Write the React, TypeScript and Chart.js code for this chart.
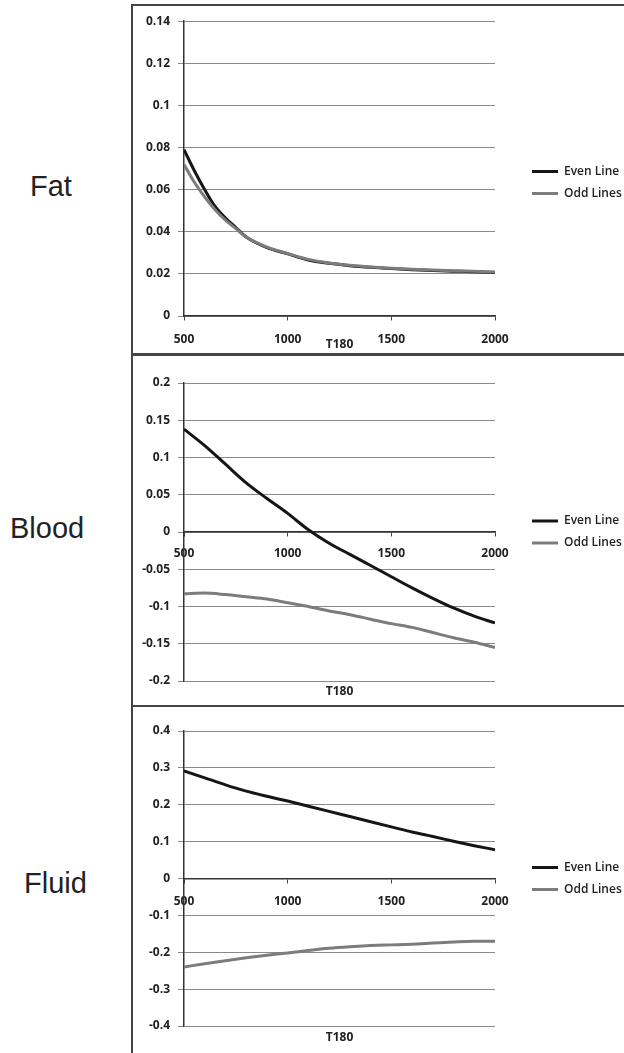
import React, { useEffect, useRef } from 'react';
import { Chart, registerables } from 'chart.js';

Chart.register(...registerables);

// ---------- data ----------
const seriesNames = ['Even Line', 'Odd Lines'];
const panelNames = ['Fat', 'Blood', 'Fluid'];
const xTitle = 'T180';
const xTicks = [500, 1000, 1500, 2000];

const fatT180 = [500, 550, 600, 650, 700, 750, 800, 900, 1000, 1100, 1200, 1300, 1400, 1500, 1600, 1700, 1800, 1900, 2000];
const fatEven = [0.079, 0.069, 0.060, 0.052, 0.0465, 0.042, 0.0375, 0.0325, 0.0295, 0.0266, 0.0250, 0.0239, 0.0231, 0.0225, 0.0220, 0.0216, 0.0213, 0.0210, 0.0206];
const fatOdd = [0.072, 0.0635, 0.0565, 0.0505, 0.0455, 0.0415, 0.0375, 0.0327, 0.0297, 0.0269, 0.0252, 0.0241, 0.0233, 0.0227, 0.0222, 0.0218, 0.0215, 0.0212, 0.0209];
const fatYTicks = [0, 0.02, 0.04, 0.06, 0.08, 0.1, 0.12, 0.14];

const bloodT180 = [500, 600, 700, 800, 900, 1000, 1100, 1200, 1300, 1400, 1500, 1600, 1700, 1800, 1900, 2000];
const bloodEven = [0.138, 0.116, 0.091, 0.066, 0.045, 0.025, 0.003, -0.015, -0.030, -0.045, -0.060, -0.075, -0.089, -0.102, -0.113, -0.122];
const bloodOdd = [-0.083, -0.082, -0.084, -0.087, -0.090, -0.095, -0.100, -0.106, -0.111, -0.117, -0.123, -0.128, -0.135, -0.142, -0.148, -0.155];
const bloodYTicks = [-0.2, -0.15, -0.1, -0.05, 0, 0.05, 0.1, 0.15, 0.2];

const fluidT180 = [500, 600, 700, 800, 900, 1000, 1100, 1200, 1300, 1400, 1500, 1600, 1700, 1800, 1900, 2000];
const fluidEven = [0.292, 0.273, 0.254, 0.237, 0.223, 0.210, 0.196, 0.182, 0.168, 0.154, 0.140, 0.126, 0.114, 0.101, 0.089, 0.078];
const fluidOdd = [-0.240, -0.231, -0.223, -0.215, -0.208, -0.202, -0.195, -0.189, -0.185, -0.182, -0.180, -0.178, -0.175, -0.172, -0.170, -0.170];
const fluidYTicks = [-0.4, -0.3, -0.2, -0.1, 0, 0.1, 0.2, 0.3, 0.4];

// ---------- styling ----------
const FONT = "'Open Sans', 'Liberation Sans', sans-serif";
const EVEN_COLOR = '#151515';
const ODD_COLOR = '#7c7c7c';
const CANVAS_W = 491;
const PLOT_RIGHT = 362; // canvas-local right edge of the plot area
const LEGEND_W = 102;

type PanelProps = {
  top: number;
  height: number;
  padTop: number;
  bottomH: number;
  titlePad: number;
  labelPad: number;
  legendShift: number;
  xs: number[];
  even: number[];
  odd: number[];
  yTicks: number[];
};

function Panel(p: PanelProps) {
  const ref = useRef<HTMLCanvasElement | null>(null);
  useEffect(() => {
    if (!ref.current) return;
    const tickFont = { family: FONT, size: 12, weight: 'bold' as const };
    const legendFont = { family: FONT, size: 12, weight: '600' as any };
    const chart = new Chart(ref.current, {
      type: 'line',
      data: {
        datasets: [
          {
            label: seriesNames[0],
            data: p.xs.map((x, i) => ({ x, y: p.even[i] })),
            borderColor: EVEN_COLOR,
            backgroundColor: EVEN_COLOR,
            borderWidth: 3,
            pointRadius: 0,
            cubicInterpolationMode: 'monotone',
            xAxisID: 'x',
            yAxisID: 'y',
            order: 1,
          },
          {
            label: seriesNames[1],
            data: p.xs.map((x, i) => ({ x, y: p.odd[i] })),
            borderColor: ODD_COLOR,
            backgroundColor: ODD_COLOR,
            borderWidth: 3,
            pointRadius: 0,
            cubicInterpolationMode: 'monotone',
            xAxisID: 'x',
            yAxisID: 'y',
            order: 0,
          },
        ],
      },
      options: {
        responsive: false,
        animation: false,
        events: [],
        layout: { padding: { top: p.padTop, right: 0, bottom: 0, left: 0 } },
        plugins: {
          tooltip: { enabled: false },
          legend: {
            position: 'right',
            align: 'center',
            fullSize: false,
            maxWidth: LEGEND_W,
            title: {
              display: p.legendShift > 0,
              text: ' ',
              padding: 0,
              font: { size: Math.max(p.legendShift, 1), lineHeight: 1 },
            },
            labels: {
              usePointStyle: true,
              pointStyle: 'line',
              pointStyleWidth: 26,
              padding: 10,
              color: '#222',
              font: legendFont,
              sort: (a: any, b: any) => a.datasetIndex - b.datasetIndex,
            },
          },
        },
        scales: {
          x: {
            type: 'linear',
            position: { y: 0 } as any,
            min: 500,
            max: 2000,
            afterBuildTicks: (s: any) => {
              s.ticks = xTicks.map((v) => ({ value: v }));
            },
            ticks: {
              callback: (v: any) => String(v),
              padding: p.labelPad,
              color: '#222',
              font: tickFont,
              maxRotation: 0,
              autoSkip: false,
            },
            grid: { drawOnChartArea: false, drawTicks: true, tickLength: 4, color: '#444' },
            border: { color: '#333', width: 1.5 },
          },
          xb: {
            type: 'linear',
            position: 'bottom',
            grid: { display: false },
            border: { display: false },
            ticks: { display: false },
            title: {
              display: true,
              text: xTitle,
              color: '#222',
              font: tickFont,
              padding: { top: 0, bottom: p.titlePad },
            },
            afterFit: (s: any) => {
              s.height = p.bottomH;
            },
          },
          y: {
            type: 'linear',
            position: 'left',
            min: p.yTicks[0],
            max: p.yTicks[p.yTicks.length - 1],
            afterBuildTicks: (s: any) => {
              s.ticks = p.yTicks.map((v) => ({ value: v }));
            },
            ticks: {
              callback: (v: any) => String(v),
              padding: 8,
              color: '#222',
              font: tickFont,
            },
            grid: { color: '#8a8a8a', lineWidth: 1, tickLength: 6 },
            border: { color: '#333', width: 1.5 },
            afterFit: (s: any) => {
              s.width = 51;
            },
          },
          yr: {
            type: 'linear',
            position: 'right',
            grid: { display: false },
            border: { display: false },
            ticks: { display: false },
            afterFit: (s: any) => {
              s.width = CANVAS_W - LEGEND_W - PLOT_RIGHT;
            },
          },
        },
      } as any,
    });
    return () => chart.destroy();
  }, []);
  return (
    <canvas
      ref={ref}
      width={CANVAS_W}
      height={p.height}
      style={{ position: 'absolute', left: 133, top: p.top, width: CANVAS_W, height: p.height }}
    />
  );
}

const labelStyle = (left: number, top: number): React.CSSProperties => ({
  position: 'absolute',
  left,
  top,
  fontFamily: "'Liberation Sans', Arial, sans-serif",
  fontSize: 29,
  lineHeight: '29px',
  color: '#222',
  whiteSpace: 'nowrap',
});

export default function App() {
  return (
    <div
      style={{
        position: 'absolute',
        left: 0,
        top: 0,
        width: 624,
        height: 1053,
        background: '#fff',
        overflow: 'hidden',
      }}
    >
      {/* frame */}
      <div style={{ position: 'absolute', left: 131, top: 4, width: 2, height: 1049, background: '#444' }} />
      <div style={{ position: 'absolute', left: 131, top: 4, width: 493, height: 2, background: '#444' }} />
      <div style={{ position: 'absolute', left: 131, top: 353, width: 493, height: 3, background: '#444' }} />
      <div style={{ position: 'absolute', left: 131, top: 705, width: 493, height: 2, background: '#444' }} />

      {/* row labels */}
      <div style={labelStyle(30, 171.5)}>{panelNames[0]}</div>
      <div style={labelStyle(10, 513.5)}>{panelNames[1]}</div>
      <div style={labelStyle(24, 868.5)}>{panelNames[2]}</div>

      <Panel top={6} height={347} padTop={14} bottomH={37} titlePad={0.8} labelPad={12} legendShift={28}
        xs={fatT180} even={fatEven} odd={fatOdd} yTicks={fatYTicks} />
      <Panel top={356} height={349} padTop={27} bottomH={24} titlePad={5.8} labelPad={10} legendShift={0}
        xs={bloodT180} even={bloodEven} odd={bloodOdd} yTicks={bloodYTicks} />
      <Panel top={707} height={346} padTop={24} bottomH={27} titlePad={7.8} labelPad={12} legendShift={0}
        xs={fluidT180} even={fluidEven} odd={fluidOdd} yTicks={fluidYTicks} />
    </div>
  );
}
